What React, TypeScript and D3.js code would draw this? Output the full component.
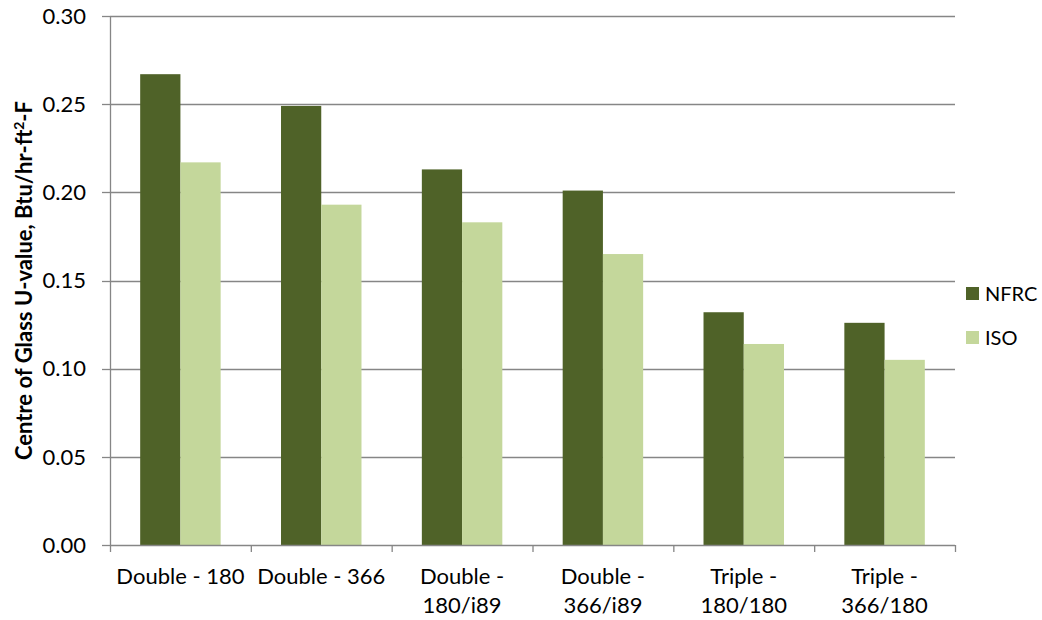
import React from "react";
import * as d3 from "d3";

const categories = [
  "Double - 180",
  "Double - 366",
  "Double -\n180/i89",
  "Double -\n366/i89",
  "Triple -\n180/180",
  "Triple -\n366/180",
];
const seriesNames = ["NFRC", "ISO"];
const nfrcValues = [0.267, 0.249, 0.213, 0.201, 0.132, 0.126];
const isoValues = [0.217, 0.193, 0.183, 0.165, 0.114, 0.105];
const yTicks = [0, 0.05, 0.1, 0.15, 0.2, 0.25, 0.3];
const colors = ["#4F6228", "#C4D79B"];

const W = 1042;
const H = 620;
const left = 110;
const right = 955;
const top = 16;
const bottom = 545;
const FONT = "Lato, 'Open Sans', sans-serif";
const FS = 22;

export default function App() {
  const x = d3.scaleBand<string>().domain(categories).range([left, right]).paddingInner(0).paddingOuter(0);
  const inner = d3
    .scaleBand<string>()
    .domain(seriesNames)
    .range([0, x.bandwidth()])
    .paddingInner(0)
    .paddingOuter(0.75);
  const y = d3.scaleLinear().domain([0, 0.3]).range([bottom, top]);
  const series = [nfrcValues, isoValues];
  const boundaries = d3.range(categories.length + 1).map((i) => left + i * x.step());
  const gridColor = "#868686";

  return (
    <svg width={W} height={H} style={{ position: "absolute", left: 0, top: 0, background: "#fff" }}>
      {/* gridlines */}
      {yTicks.filter((t) => t > 0).map((t) => (
        <line key={"g" + t} x1={left} x2={right} y1={Math.round(y(t)) + 0.5} y2={Math.round(y(t)) + 0.5} stroke={gridColor} strokeWidth={1.3} />
      ))}
      {/* bars */}
      {categories.map((c, ci) =>
        seriesNames.map((s, si) => {
          const v = series[si][ci];
          return (
            <rect
              key={c + s}
              x={(x(c) as number) + (inner(s) as number)}
              y={y(v)}
              width={inner.bandwidth()}
              height={bottom - y(v)}
              fill={colors[si]}
            />
          );
        })
      )}
      {/* y axis */}
      <line x1={left + 0.5} x2={left + 0.5} y1={top} y2={bottom} stroke={gridColor} strokeWidth={1.3} />
      {yTicks.map((t) => (
        <g key={"yt" + t}>
          <line x1={left - 8} x2={left} y1={Math.round(y(t)) + 0.5} y2={Math.round(y(t)) + 0.5} stroke={gridColor} strokeWidth={1.3} />
          <text x={86} y={y(t)} dy="0.35em" textAnchor="end" fontFamily={FONT} fontSize={FS} fill="#000">
            {d3.format(".2f")(t)}
          </text>
        </g>
      ))}
      {/* x axis */}
      <line x1={left} x2={right} y1={bottom + 0.5} y2={bottom + 0.5} stroke={gridColor} strokeWidth={1.3} />
      {boundaries.map((b, i) => (
        <line key={"xt" + i} x1={b + 0.5} x2={b + 0.5} y1={bottom} y2={bottom + 7} stroke={gridColor} strokeWidth={1.3} />
      ))}
      {categories.map((c) => {
        const lines = c.split("\n");
        const cx = (x(c) as number) + x.bandwidth() / 2;
        return (
          <text key={"xl" + c} textAnchor="middle" fontFamily={FONT} fontSize={FS} fill="#000">
            {lines.map((l, i) => (
              <tspan key={i} x={cx} y={584 + i * 29}>
                {l}
              </tspan>
            ))}
          </text>
        );
      })}
      {/* y axis title */}
      <text
        transform={`translate(32, ${(top + bottom) / 2}) rotate(-90)`}
        textAnchor="middle"
        fontFamily={FONT}
        fontSize={FS}
        fontWeight="bold"
        fill="#000"
      >
        Centre of Glass U-value, Btu/hr-ft<tspan dy="-8" fontSize={14}>2</tspan>
        <tspan dy="8">-F</tspan>
      </text>
      {/* legend */}
      {seriesNames.map((s, i) => (
        <g key={"lg" + s} transform={`translate(966, ${287 + i * 44})`}>
          <rect x={0} y={0} width={13} height={13} fill={colors[i]} />
          <text x={19} y={6.5} dy="0.35em" fontFamily={FONT} fontSize={20} fill="#000">
            {s}
          </text>
        </g>
      ))}
    </svg>
  );
}
